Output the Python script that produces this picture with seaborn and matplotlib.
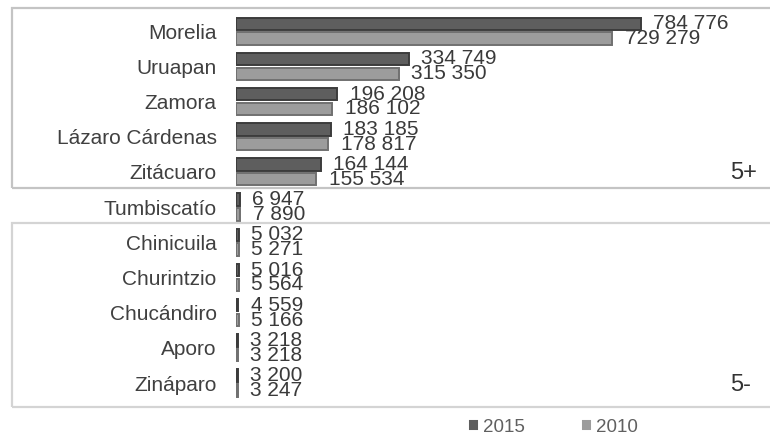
import pandas as pd
import numpy as np
import matplotlib
matplotlib.use("Agg")
import matplotlib.pyplot as plt
import seaborn as sns
from matplotlib.patches import Rectangle

# Données
municipios = ["Morelia", "Uruapan", "Zamora", "Lázaro Cárdenas", "Zitácuaro",
              "Tumbiscatío", "Chinicuila", "Churintzio", "Chucándiro", "Aporo", "Zináparo"]
pob_2015 = [784776, 334749, 196208, 183185, 164144, 6947, 5032, 5016, 4559, 3218, 3200]
pob_2010 = [729279, 315350, 186102, 178817, 155534, 7890, 5271, 5564, 5166, 3218, 3247]
anios = ["2015", "2010"]
colores = {"2015": "#5e5e5e", "2010": "#9c9c9c"}
bordes = {"2015": "#3c3c3c", "2010": "#707070"}

df = pd.DataFrame({
    "municipio": municipios * 2,
    "poblacion": pob_2015 + pob_2010,
    "anio": [anios[0]] * len(municipios) + [anios[1]] * len(municipios),
})

sns.set_style("white")
plt.rcParams["font.family"] = ["Liberation Sans", "DejaVu Sans"]

fig = plt.figure(figsize=(7.7, 4.38), dpi=100)
ax = fig.add_axes([0.3065, 0.0854, 0.6935, 0.8836])

sns.barplot(data=df, y="municipio", x="poblacion", hue="anio", hue_order=anios,
            order=municipios, palette=colores, orient="h", width=0.84, gap=0.16,
            linewidth=1.4, ax=ax)

# bordes plus sombres + étiquettes de valeurs
for cont, a in zip(ax.containers, anios):
    for p in cont:
        p.set_edgecolor(bordes[a])
    ax.bar_label(cont, labels=[f"{int(v):,}".replace(",", " ") for v in cont.datavalues],
                 padding=9, fontsize=15, color="#3a3a3a")

handles, labels = ax.get_legend_handles_labels()
ax.get_legend().remove()

ax.set_xlim(0, 1035000)
ax.set_xlabel("")
ax.set_ylabel("")
ax.set_xticks([])
ax.tick_params(axis="y", length=0, pad=14, labelsize=15, labelcolor="#404040")
sns.despine(ax=ax, left=True, bottom=True)

# encadrés 5+ / 5-
fig.add_artist(Rectangle((0.0156, 0.5708), 1.1, 0.411, transform=fig.transFigure,
                         fill=False, edgecolor="#c4c4c4", linewidth=1.6))
fig.add_artist(Rectangle((0.0156, 0.0708), 1.1, 0.420, transform=fig.transFigure,
                         fill=False, edgecolor="#d4d4d4", linewidth=1.6))
fig.text(0.948, 1 - 173 / 438, "5+", fontsize=17, color="#333333", va="center", ha="left")
fig.text(0.948, 1 - 385 / 438, "5-", fontsize=17, color="#333333", va="center", ha="left")

fig.legend(handles, labels, loc="center", bbox_to_anchor=(0.718, 1 - 427 / 438),
           ncol=2, frameon=False, fontsize=13.5, labelcolor="#606060",
           handlelength=0.6, handleheight=0.6, handletextpad=0.2, columnspacing=3.0)

fig.savefig("out.png", dpi=100)
